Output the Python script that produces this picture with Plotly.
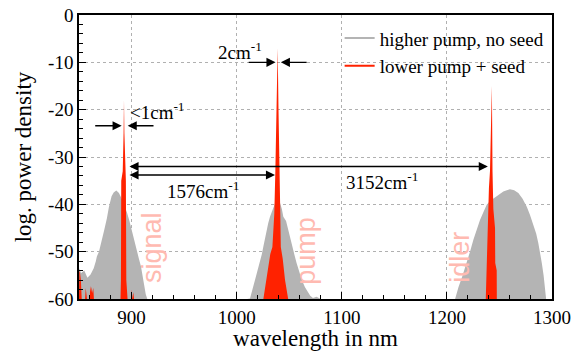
import plotly.graph_objects as go

# ---------------- data ----------------
FLOOR = -60

# grey: higher pump, no seed
gray_signal_x = [850, 852, 855, 858, 861, 864, 866, 867, 869, 872, 874, 876.5, 878.5, 881, 883, 885.5,
                 888, 891, 893.5, 895.7, 898, 900, 902.5, 905, 907, 909, 911, 912, 913.5, 915]
gray_signal_y = [-53.5, -54.5, -54, -55.5, -54.8, -53.5, -52, -51, -50, -47.5, -45.4, -43, -40.5, -38.3,
                 -37.5, -37.1, -37.6, -39, -40.3, -41.8, -43.5, -45.4, -47.5, -49.6, -51.5, -53.2, -55.5,
                 -57.4, -59, -60]

gray_pump_x = [1010, 1012.7, 1015, 1017.5, 1020, 1022, 1024, 1025.4, 1027, 1028.6, 1030, 1031.7, 1033.5,
               1034.9, 1037, 1039, 1041, 1043, 1044.4, 1047, 1049, 1050.5, 1052.4, 1055, 1057, 1059.5,
               1062, 1065, 1068, 1070, 1072.6, 1076, 1080]
gray_pump_y = [-60, -59.9, -58, -56, -54, -52.4, -50.5, -48.9, -47, -45.4, -44, -42.6, -41.5, -40.5,
               -39.5, -39, -39.5, -41, -42.6, -43.5, -45.4, -47, -48.9, -50.7, -52.4, -54.2, -56, -57.5,
               -58.7, -59.3, -59.8, -59.5, -60]

gray_idler_x = [1207.8, 1211, 1215, 1218.9, 1222, 1225.2, 1228, 1231.5, 1235, 1237.9, 1241, 1244, 1247.4,
                1250, 1253.7, 1257, 1260, 1264, 1268, 1272, 1276, 1279, 1282, 1285, 1287, 1289, 1290.3,
                1292, 1293.4, 1294.4]
gray_idler_y = [-60, -57.5, -55, -52.4, -50, -47.5, -45.5, -43.3, -41.5, -40.1, -39.3, -38.8, -38.3,
                -37.8, -37.3, -37, -36.8, -37, -37.6, -38.8, -40.5, -42.2, -44, -46.2, -48.2, -50.5,
                -52.4, -55, -58, -60]

# red: lower pump + seed
red_noise_x = [850, 850.3, 851, 851.8, 852.6, 855.8, 856.4, 857, 857.6, 860.2, 860.8, 861.5, 862.2,
               862.8, 863.6, 864.2]
red_noise_y = [-60, -54, -54.5, -56, -60, -60, -57.7, -58.5, -60, -60, -57.2, -58.5, -57.4, -58.8,
               -57.6, -60]

red_signal_x = [889.5, 889.9, 890.2, 891.6, 892.4, 892.8, 893.2, 893.9, 894.6, 895.0, 896.2,
                899.6, 900.2, 900.8, 901.6, 902.4]
red_signal_y = [-60, -56, -35, -33, -25, -18, -25, -33, -35, -56, -60,
                -60, -58, -60, -58.6, -60]

red_pump_x = [1025.4, 1028, 1031, 1032, 1034, 1035.8, 1036.8, 1038.2, 1039, 1039.8, 1041.2, 1041.5,
              1042, 1043.8, 1046, 1049]
red_pump_y = [-60, -56, -51.5, -50.5, -49, -42, -33, -20, -7, -20, -33, -42, -49, -51.5, -56, -60]

red_idler_x = [1237, 1237.9, 1238.9, 1240, 1241, 1242.3, 1242.8, 1243.4, 1244.2, 1245.8, 1246,
               1247.4, 1247.5]
red_idler_y = [-60, -52, -41, -36.5, -33, -20, -15, -33, -41, -45, -52.4, -54, -60]

legend_names = ["higher pump, no seed", "lower pump + seed"]

x_tick_vals = [900, 1000, 1100, 1200, 1300]
y_tick_vals = [0, -10, -20, -30, -40, -50, -60]
y_tick_text = ["0", "-10", "-20", "-30", "-40", "-50", "-60"]

GRAY = "#b4b4b4"
RED = "#ff2200"
PINK = "#ffbab1"
SERIF = "Liberation Serif"
SANS = "Liberation Sans"

fig = go.Figure()


def area(xs, ys, color, name):
    fig.add_trace(go.Scatter(
        x=list(xs) + [xs[-1], xs[0]], y=list(ys) + [FLOOR, FLOOR],
        fill="toself", fillcolor=color, mode="lines", line=dict(width=0, color=color),
        name=name, legendgroup=name, showlegend=False, hoverinfo="skip"))


for xs, ys in [(gray_signal_x, gray_signal_y), (gray_pump_x, gray_pump_y), (gray_idler_x, gray_idler_y)]:
    area(xs, ys, GRAY, legend_names[0])
for xs, ys in [(red_noise_x, red_noise_y), (red_signal_x, red_signal_y),
               (red_pump_x, red_pump_y), (red_idler_x, red_idler_y)]:
    area(xs, ys, RED, legend_names[1])

# legend entries (line samples)
fig.add_trace(go.Scatter(x=[None], y=[None], mode="lines", line=dict(color=GRAY, width=2),
                         name=legend_names[0], legendgroup=legend_names[0]))
fig.add_trace(go.Scatter(x=[None], y=[None], mode="lines", line=dict(color=RED, width=2),
                         name=legend_names[1], legendgroup=legend_names[1]))

ann = []


def arrow(x_head, y_head, x_tail, y_tail, both=False):
    ann.append(dict(x=x_head, y=y_head, ax=x_tail, ay=y_tail, xref="x", yref="y", axref="x", ayref="y",
                    text="", showarrow=True, arrowhead=2, arrowsize=1.3, arrowwidth=1.4,
                    arrowcolor="black", standoff=0, startstandoff=0,
                    arrowside="end+start" if both else "end", startarrowhead=2, startarrowsize=1.3))


def label(x, y, text, **kw):
    d = dict(x=x, y=y, xref="x", yref="y", text=text, showarrow=False,
             font=dict(family=SERIF, size=19, color="black"))
    d.update(kw)
    ann.append(d)


# 2cm-1 around the pump peak
arrow(1037, -10, 1010, -10)
arrow(1042, -10, 1068, -10)
label(1003, -7.6, "2cm<sup>-1</sup>")
# <1cm-1 around the signal peak
arrow(890.6, -23.4, 864, -23.4)
arrow(896.3, -23.4, 922.3, -23.4)
label(896.6, -20.3, "<1cm<sup>-1</sup>", xanchor="left")
# shifts
arrow(1239, -32, 896.6, -32, both=True)
label(1138, -35, "3152cm<sup>-1</sup>")
arrow(1036.5, -33.8, 896.6, -33.8, both=True)
label(968, -37, "1576cm<sup>-1</sup>")

# band labels
for x, y, t in [(919.5, -49.2, "signal"), (1066, -49.8, "pump"), (1212.5, -51.3, "idler")]:
    ann.append(dict(x=x, y=y, xref="x", yref="y", text=t, showarrow=False, textangle=-90,
                    font=dict(family=SANS, size=27, color=PINK)))

fig.update_layout(
    width=575, height=351,
    margin=dict(l=79, r=23, t=15, b=52, autoexpand=False),
    paper_bgcolor="white", plot_bgcolor="white",
    font=dict(family=SERIF, size=18, color="black"),
    annotations=ann,
    legend=dict(x=0.995, y=0.985, xanchor="right", yanchor="top", bgcolor="rgba(0,0,0,0)",
                font=dict(family=SERIF, size=19), tracegroupgap=0, itemwidth=30),
    showlegend=True,
)

fig.update_xaxes(
    range=[850, 1300], tickvals=x_tick_vals, ticks="inside", ticklen=7, tickwidth=1.2, tickcolor="black",
    showline=True, linecolor="black", linewidth=1.5, mirror=True, automargin=False,
    showgrid=True, gridcolor="#b0b0b0", griddash="dot", gridwidth=1, zeroline=False,
    minor=dict(tickmode="linear", tick0=0, dtick=20, ticks="inside", ticklen=4, tickcolor="black",
               showgrid=False),
    tickfont=dict(family=SERIF, size=19),
    title=dict(text="wavelength in nm", font=dict(family=SERIF, size=23), standoff=3),
)
fig.update_yaxes(
    range=[-60, 0], tickmode="array", tickvals=y_tick_vals, ticktext=y_tick_text,
    ticks="inside", ticklen=7, tickwidth=1.2, tickcolor="black",
    showline=True, linecolor="black", linewidth=1.5, mirror=True, automargin=False,
    showgrid=True, gridcolor="#b0b0b0", griddash="dot", gridwidth=1, zeroline=False,
    minor=dict(tickmode="linear", tick0=0, dtick=2, ticks="inside", ticklen=4, tickcolor="black",
               showgrid=False),
    tickfont=dict(family=SERIF, size=19),
    title=dict(text="log. power density", font=dict(family=SERIF, size=23), standoff=10),
)

fig.write_html("out.html")
